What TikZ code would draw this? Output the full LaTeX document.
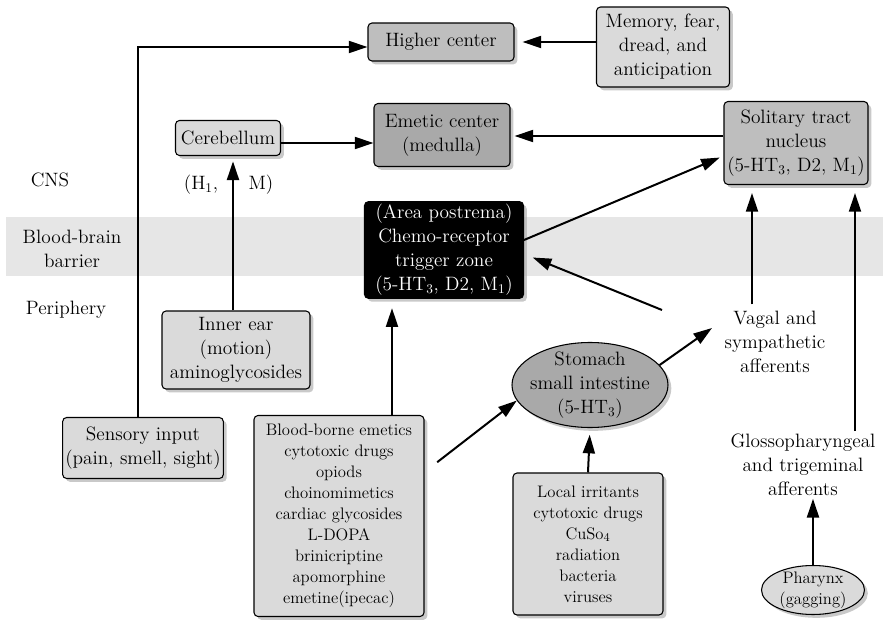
\documentclass[tikz,border=0pt]{standalone}
\usepackage{fontspec}
\usepackage{tikz}
\usetikzlibrary{positioning,calc,arrows.meta,shapes.geometric,shadows}
\definecolor{boxlight}{HTML}{DADADA}
\definecolor{boxmid}{HTML}{BEBEBE}
\definecolor{boxdark}{HTML}{A9A9A9}
\definecolor{bandgray}{HTML}{E6E6E6}

\begin{document}
\begin{tikzpicture}[x=0.75pt,y=-0.75pt,
    lbl/.style={font=\fontsize{14.5}{18}\selectfont,align=center,inner sep=2pt},
    lst/.style={font=\fontsize{12.5}{15.75}\selectfont,align=center,inner sep=2pt},
    emebox/.style={rectangle,draw,line width=0.8pt,rounded corners=3pt,
      drop shadow={shadow xshift=2.5pt,shadow yshift=-2.5pt,fill=black!30,opacity=0.7}},
    emeoval/.style={ellipse,draw,line width=0.8pt,
      drop shadow={shadow xshift=2.5pt,shadow yshift=-2.5pt,fill=black!30,opacity=0.7}},
    arw/.style={-{Triangle[length=14pt,width=9pt]},line width=1.5pt}]

\useasboundingbox (0,0) rectangle (883,621);

% Blood-brain barrier band
\fill[bandgray] (6,217) rectangle (883,276);

% Side labels
\node[lbl] (cns) at (50,180) {CNS};
\node[lbl] (bbb) at (72,249) {Blood-brain\\barrier};
\node[lbl] (peri) at (66,310) {Periphery};

% CNS
\node[lbl,emebox,fill=boxmid,minimum width=109.5pt,minimum height=28.5pt] (higher) at (441,42) {Higher center};
\node[lbl,emebox,fill=boxlight,minimum width=99.75pt,minimum height=60pt] (memory) at (663,47) {Memory, fear,\\dread, and\\anticipation};
\node[lbl,emebox,fill=boxlight,minimum width=78.75pt,minimum height=26.25pt] (cereb) at (228,138) {Cerebellum};
\node[lbl,emebox,fill=boxdark,minimum width=102pt,minimum height=47.25pt] (emetic) at (442,135) {Emetic center\\(medulla)};
\node[lbl,emebox,fill=boxmid,minimum width=108pt,minimum height=62.25pt] (solitary) at (796,143) {Solitary tract\\nucleus\\(5-HT$_3$, D2, M$_1$)};
\node[lbl] (hone) at (201,185) {(H$_1$,};
\node[lbl] (musc) at (261,185) {M)};

% Chemoreceptor trigger zone
\node[lbl,emebox,fill=black,text=white,minimum width=119.25pt,minimum height=72pt] (ctz) at (444,250) {(Area postrema)\\Chemo-receptor\\trigger zone\\(5-HT$_3$, D2, M$_1$)};

% Periphery
\node[lbl,emebox,fill=boxlight,minimum width=111pt,minimum height=58.5pt] (innerear) at (236,350) {Inner ear\\(motion)\\aminoglycosides};
\node[lbl,emebox,fill=boxlight,minimum width=120pt,minimum height=45.75pt] (sensory) at (143,448) {Sensory input\\(pain, smell, sight)};
\node[lst,emebox,fill=boxlight,minimum width=127.5pt,minimum height=150.75pt] (blood) at (339,516) {Blood-borne emetics\\cytotoxic drugs\\opiods\\choinomimetics\\cardiac glycosides\\L-DOPA\\brinicriptine\\apomorphine\\emetine(ipecac)};
\node[lbl,emeoval,fill=boxdark,inner sep=-6pt,minimum width=117pt,minimum height=63.75pt] (stomach) at (590,385) {Stomach\\small intestine\\(5-HT$_3$)};
\node[lst,emebox,fill=boxlight,minimum width=112.5pt,minimum height=106.5pt] (local) at (588,544) {Local irritants\\cytotoxic drugs\\CuSo$_4$\\radiation\\bacteria\\viruses};
\node[lbl,inner ysep=5pt] (vagal) at (775,342) {Vagal and\\sympathetic\\afferents};
\node[lbl] (glosso) at (803,465) {Glossopharyngeal\\and trigeminal\\afferents};
\node[lst,emeoval,fill=boxlight,inner sep=-8pt,minimum width=77.25pt,minimum height=36.75pt] (pharynx) at (813,590) {Pharynx\\(gagging)};
\coordinate (gutin) at (662,310);
\coordinate (vagtip) at (712,328);

% Connectors
\draw[arw] (sensory.north -| 138,0) |- (higher.west |- 0,47);
\draw[arw,shorten >=6pt] (memory.west |- 0,42) -- (higher.east |- 0,42);
\draw[arw] (cereb.east |- 0,143) -- (emetic.west |- 0,143);
\draw[arw,shorten >=3pt] (solitary.west |- 0,136) -- (emetic.east |- 0,136);
\draw[arw,shorten >=3pt] (ctz.east |- 0,240) -- (solitary.west |- 0,156);
\draw[arw,shorten >=7pt] (gutin) -- (ctz.east |- 0,254);
\draw[arw,shorten >=4pt] (innerear.north -| 233,0) -- (cereb.south -| 233,0);
\draw[arw,shorten >=7pt] (blood.north -| 392,0) -- (ctz.south -| 392,0);
\draw[arw,shorten <=12pt] (blood.east |- 0,472) -- (stomach.192);
\draw[arw] (stomach.16) -- (vagtip);
\draw[arw,shorten >=5pt] (local.north) -- (stomach.south);
\draw[arw,shorten >=6pt] (vagal.north -| 752,0) -- (solitary.south -| 752,0);
\draw[arw,shorten >=6pt] (glosso.north -| 855,0) -- (solitary.south -| 855,0);
\draw[arw] (pharynx.north) -- (glosso.south -| pharynx.north);

\end{tikzpicture}
\end{document}
